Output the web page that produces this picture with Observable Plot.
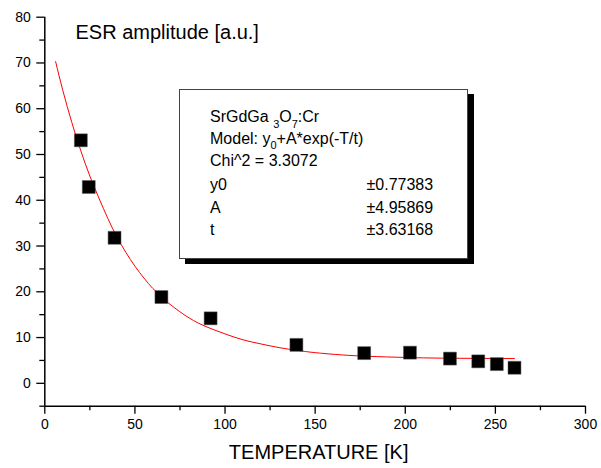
<!DOCTYPE html>
<html>
<head>
<meta charset="utf-8">
<script src="https://cdn.jsdelivr.net/npm/d3@7"></script>
<script src="https://cdn.jsdelivr.net/npm/@observablehq/plot@0.6"></script>
<style>
  body { margin: 0; background: white; }
  #chart { width: 601px; height: 468px; }
</style>
</head>
<body>
<div id="chart"></div>
<script>
// Measured data points (temperature K, ESR amplitude a.u.)
const temps = [20, 24.4, 38.7, 64.7, 92, 139.6, 177.2, 202.6, 224.8, 240.5, 250.8, 260.6];
const amps  = [53.1, 42.9, 31.8, 18.85, 14.2, 8.4, 6.6, 6.7, 5.4, 4.8, 4.2, 3.4];

// Fitted curve
const fitT = [6, 10, 15, 20, 25, 30, 35, 40, 45, 50, 55, 60, 65, 70, 80, 90, 100, 110, 120, 130, 140, 150, 165, 180, 200, 220, 240, 260.6];
const fitY = [70.3, 64.0, 57.0, 50.8, 45.3, 40.5, 36.0, 32.0, 28.6, 25.6, 23.0, 20.7, 18.8, 17.1, 14.3, 12.3, 10.8, 9.5, 8.6, 7.8, 7.2, 6.7, 6.2, 5.9, 5.65, 5.5, 5.45, 5.4];

// Axis ticks and labels
const xMajor = [0, 50, 100, 150, 200, 250, 300];
const xMinor = [25, 75, 125, 175, 225, 275];
const yMajor = [0, 10, 20, 30, 40, 50, 60, 70, 80];
const yMinor = [-5, 5, 15, 25, 35, 45, 55, 65, 75];
const xTitle = "TEMPERATURE [K]";
const yTitle = "ESR amplitude [a.u.]";

// Fit-result box text
const boxTitle = ["SrGdGa ", "3", "O", "7", ":Cr"];
const boxModel = ["Model: y", "0", "+A*exp(-T/t)"];
const boxChi = "Chi^2 = 3.3072";
const paramNames = ["y0", "A", "t"];
const paramErrors = ["\u00b10.77383", "\u00b14.95869", "\u00b13.63168"];

const points = temps.map((t, i) => ({t, a: amps[i]}));
const fit = fitT.map((t, i) => ({t, a: fitY[i]}));

const font = "'Liberation Sans', Arial, Helvetica, sans-serif";

function fitBox() {
  const g = d3.create("svg:g").attr("font-family", font).attr("font-size", 16)
    .attr("fill", "black").attr("text-anchor", "start");
  g.append("rect").attr("x", 185).attr("y", 94).attr("width", 289).attr("height", 170).attr("fill", "black");
  g.append("rect").attr("x", 179.5).attr("y", 89.5).attr("width", 288).attr("height", 169)
    .attr("fill", "white").attr("stroke", "#444").attr("stroke-width", 1);
  const x0 = 210, x1 = 366.5;
  const t1 = g.append("text").attr("x", x0).attr("y", 122);
  t1.append("tspan").text(boxTitle[0]);
  t1.append("tspan").attr("dy", 5.5).attr("font-size", 11).text(boxTitle[1]);
  t1.append("tspan").attr("dy", -5.5).text(boxTitle[2]);
  t1.append("tspan").attr("dy", 5.5).attr("font-size", 11).text(boxTitle[3]);
  t1.append("tspan").attr("dy", -5.5).text(boxTitle[4]);
  const t2 = g.append("text").attr("x", x0).attr("y", 143.5);
  t2.append("tspan").text(boxModel[0]);
  t2.append("tspan").attr("dy", 5.5).attr("font-size", 11).text(boxModel[1]);
  t2.append("tspan").attr("dy", -5.5).text(boxModel[2]);
  g.append("text").attr("x", x0).attr("y", 166).text(boxChi);
  const ys = [190, 212.5, 235];
  paramNames.forEach((p, i) => {
    g.append("text").attr("x", x0).attr("y", ys[i]).text(p);
    g.append("text").attr("x", x1).attr("y", ys[i]).text(paramErrors[i]);
  });
  return g.node();
}

const chart = Plot.plot({
  width: 601,
  height: 468,
  marginLeft: 44.3,
  marginRight: 16,
  marginTop: 16.7,
  marginBottom: 62.3,
  x: {domain: [0, 300]},
  y: {domain: [-5, 80]},
  style: {fontFamily: font, fontSize: "14px", color: "black", background: "white", overflow: "visible"},
  marks: [
    Plot.axisY(yMajor, {tickSize: 8, tickPadding: 6, label: null, fontSize: 14, strokeWidth: 1.3}),
    Plot.axisY(yMinor, {tickSize: 5, tickFormat: () => "", label: null, strokeWidth: 1.3}),
    Plot.axisX(xMajor, {tickSize: 8, tickPadding: 5, label: null, fontSize: 14, strokeWidth: 1.3}),
    Plot.axisX(xMinor, {tickSize: 4.5, tickFormat: () => "", label: null, strokeWidth: 1.3}),
    Plot.ruleX([0], {strokeWidth: 1.5}),
    Plot.ruleY([-5], {strokeWidth: 1.5}),
    Plot.line(fit, {x: "t", y: "a", stroke: "#ff0000", strokeWidth: 1, curve: "natural"}),
    Plot.dot(points, {x: "t", y: "a", symbol: "square", r: 7.3, fill: "black", stroke: "#555", strokeWidth: 0.5}),
    Plot.text([yTitle], {frameAnchor: "top-left", textAnchor: "start", lineAnchor: "top", dx: 30.7, dy: 7.4, fontSize: 20}),
    Plot.text([xTitle], {frameAnchor: "bottom", lineAnchor: "top", dx: 3.5, dy: 39, fontSize: 20}),
    fitBox
  ]
});
document.getElementById("chart").append(chart);
</script>
</body>
</html>
